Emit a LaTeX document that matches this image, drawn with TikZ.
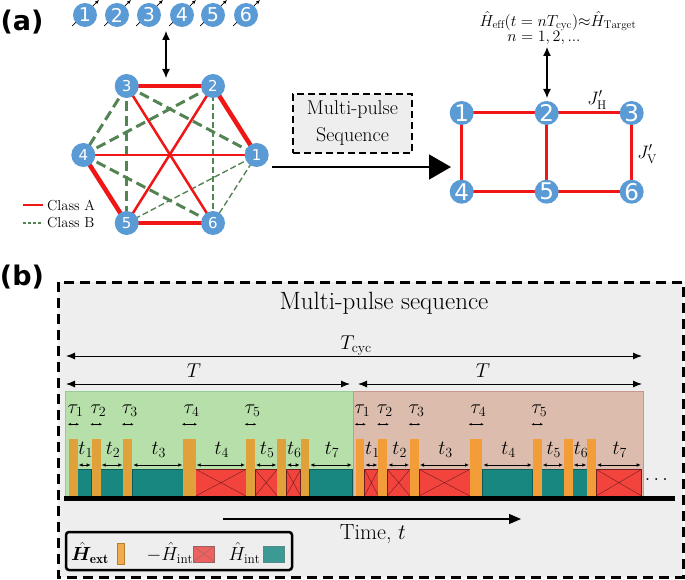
\RequirePackage{fix-cm}
\documentclass[tikz,border=0pt]{standalone}
\usepackage{amsmath}
\usepackage{bm}
\usepackage{fontspec}
\newfontfamily\dvs{DejaVu Sans}
\usetikzlibrary{arrows.meta}
\definecolor{nodeblue}{RGB}{91,155,213}
\definecolor{hexred}{RGB}{240,22,22}
\definecolor{hexgreen}{RGB}{84,132,84}
\definecolor{panelgray}{RGB}{238,238,238}
\definecolor{pergreen}{RGB}{182,223,170}
\definecolor{pergreenb}{RGB}{150,205,150}
\definecolor{perpink}{RGB}{220,189,173}
\definecolor{perpinkb}{RGB}{200,150,140}
\definecolor{tealb}{RGB}{23,135,127}
\definecolor{tealbd}{RGB}{15,90,85}
\definecolor{redb}{RGB}{242,67,61}
\definecolor{redbd}{RGB}{110,30,30}
\definecolor{orangeA}{RGB}{224,160,58}
\definecolor{orangeB}{RGB}{243,157,56}
\definecolor{legorange}{RGB}{240,170,80}
\definecolor{legred}{RGB}{238,97,97}
\definecolor{legteal}{RGB}{61,153,147}
\newcommand{\myfs}[1]{\fontsize{#1}{#1}\selectfont}
\pgfdeclarelayer{bg}
\pgfsetlayers{bg,main}
\begin{document}
\begin{tikzpicture}[x=1pt,y=-1pt,
  basen/.style={circle,fill=nodeblue,inner sep=0pt,minimum size=24pt,text=white},
  hexn/.style={basen,font=\dvs\myfs{15}},
  spinn/.style={basen,font=\dvs\myfs{19}},
  rectn/.style={basen,font=\dvs\myfs{23}},
  thickred/.style={hexred,line width=4.5pt},
  medred/.style={hexred,line width=2.5pt},
  gthick/.style={hexgreen,line width=3pt,dash pattern=on 10pt off 5pt},
  gthin/.style={hexgreen,line width=1.4pt,dash pattern=on 6pt off 3pt},
  rectedge/.style={hexred,line width=3pt},
  dblarr/.style={line width=1.2pt,{Latex[length=9pt,width=8pt]}-{Latex[length=9pt,width=8pt]}},
  lbl/.style={inner sep=0pt,font=\dvs\bfseries\myfs{27}},
  mlab/.style={inner sep=0pt,font=\myfs{20}},
  longarr/.style={line width=1pt,{Latex[length=9pt,width=7pt]}-{Latex[length=9pt,width=7pt]}},
  tarr/.style={line width=0.7pt,{Latex[length=4pt,width=3.5pt]}-{Latex[length=4pt,width=3.5pt]}},
  tauarr/.style={line width=0.6pt,{Latex[length=3pt,width=2.5pt]}-{Latex[length=3pt,width=2.5pt]}},
  tealblk/.style={fill=tealb,draw=tealbd,line width=0.5pt},
  redblk/.style={fill=redb,draw=redbd,line width=0.5pt},
  crossl/.style={redbd,line width=0.4pt}
]
\useasboundingbox (0,0) rectangle (685,580);

% ---------------- panel (a) ----------------
\node[lbl] (la) at (22,22) {(a)};

% spin row
\foreach \i/\x in {1/85,2/117,3/149,4/182,5/213,6/246}
  \node[spinn] (s\i) at (\x,15) {\i};
\begin{pgfonlayer}{bg}
\foreach \i in {1,...,6}
  \draw[line width=0.7pt,-{Latex[length=4pt,width=3.5pt]}] ([shift={(-13,11)}]s\i.center) -- ([shift={(14,-15)}]s\i.center);
\end{pgfonlayer}
\coordinate (sa) at (166,31);
\coordinate (sb) at (166,78);
\draw[dblarr] (sa) -- (sb);

% hexagon
\node[hexn] (h1) at (256.7,155) {1};
\node[hexn] (h2) at (213,86) {2};
\node[hexn] (h3) at (126.7,86) {3};
\node[hexn] (h4) at (83.3,155) {4};
\node[hexn] (h5) at (126.7,223) {5};
\node[hexn] (h6) at (213,223) {6};
\begin{pgfonlayer}{bg}
\draw[gthin] (h2.center) -- (h6.center);
\draw[gthin] (h5.center) -- (h1.center);
\draw[gthin] (h1.center) -- (h6.center);
\draw[gthick] (h3.center) -- (h4.center);
\draw[gthick] (h4.center) -- (h2.center);
\draw[gthick] (h3.center) -- (h1.center);
\draw[gthick] (h3.center) -- (h5.center);
\draw[gthick] (h4.center) -- (h6.center);
\draw[medred] (h3.center) -- (h6.center);
\draw[medred] (h2.center) -- (h5.center);
\draw[medred] (h4.center) -- (h1.center);
\draw[thickred] (h3.center) -- (h2.center);
\draw[thickred] (h2.center) -- (h1.center);
\draw[thickred] (h4.center) -- (h5.center);
\draw[thickred] (h5.center) -- (h6.center);
\end{pgfonlayer}

% class legend
\coordinate (ca1) at (23,205); \coordinate (ca2) at (43,205);
\coordinate (cb1) at (23,223); \coordinate (cb2) at (43,223);
\draw[hexred,line width=1.6pt] (ca1) -- (ca2);
\draw[hexgreen,line width=1.2pt,dash pattern=on 3pt off 2pt] (cb1) -- (cb2);
\node[anchor=west,inner sep=0pt,font=\myfs{14.5}] (cla) at (47,205) {Class A};
\node[anchor=west,inner sep=0pt,font=\myfs{14.5}] (clb) at (47,223) {Class B};

% multi-pulse box and big arrow
\node[draw,fill=panelgray,line width=2pt,dash pattern=on 7pt off 4pt,
      minimum width=119pt,minimum height=59pt,align=center,inner sep=2pt,
      font=\fontsize{20}{27}\selectfont] (mps) at (352.5,123.5) {Multi-pulse\\Sequence};
\coordinate (a1) at (272,167);
\coordinate (a2) at (451,167);
\draw[line width=1.5pt,-{Triangle[length=22pt,width=25pt]}] (a1) -- (a2);

% target lattice
\node[rectn] (r1) at (461.7,113) {1};
\node[rectn] (r2) at (546.7,113) {2};
\node[rectn] (r3) at (631.7,113) {3};
\node[rectn] (r4) at (461.7,191.7) {4};
\node[rectn] (r5) at (546.7,191.7) {5};
\node[rectn] (r6) at (631.7,191.7) {6};
\begin{pgfonlayer}{bg}
\draw[rectedge] (r1.center) -- (r2.center) -- (r3.center) -- (r6.center) -- (r5.center) -- (r4.center) -- cycle;
\draw[rectedge] (r2.center) -- (r5.center);
\end{pgfonlayer}
\node[inner sep=0pt,font=\myfs{18}] (jh) at (597,100) {$J'_{\mathrm{H}}$};
\node[inner sep=0pt,font=\myfs{18}] (jv) at (647,154) {$J'_{\mathrm{V}}$};
\node[inner sep=0pt,font=\myfs{16}] (feff) at (558,21) {$\hat{H}_{\mathrm{eff}}(t=nT_{\mathrm{cyc}}){\approx}\hat{H}_{\mathrm{Target}}$};
\node[inner sep=0pt,font=\myfs{16}] (nn) at (544,38) {$n=1,2,...$};
\coordinate (ra) at (547,47);
\coordinate (rb) at (547,98);
\draw[dblarr] (ra) -- (rb);

% ---------------- panel (b) ----------------
\node[lbl] (lb) at (22,277) {(b)};
\draw[fill=panelgray,line width=3pt,dash pattern=on 10pt off 6pt] (58,282) rectangle (683,577);
\node[inner sep=0pt,font=\myfs{25}] (title) at (384,303) {Multi-pulse sequence};

\coordinate (c1) at (66,356); \coordinate (c2) at (642,356);
\draw[longarr] (c1) -- (c2);
\node[mlab] (tcyc) at (356,346) {$T_{\mathrm{cyc}}$};
\coordinate (p1) at (66,384); \coordinate (p2) at (350,384);
\coordinate (p3) at (358,384); \coordinate (p4) at (642,384);
\draw[longarr] (p1) -- (p2);
\draw[longarr] (p3) -- (p4);
\node[mlab] (T1) at (194,371) {$T$};
\node[mlab] (T2) at (483,371) {$T$};

% period rectangles
\draw[fill=pergreen,draw=pergreenb,line width=1pt] (65,391) rectangle (353,496);
\draw[fill=perpink,draw=perpinkb,line width=1pt] (353,391) rectangle (643,496);

% first period
\foreach \a/\b in {77.7/91.7,100.7/123.3,132.3/183.3,309.3/352.7}
  \draw[tealblk] (\a,469.3) rectangle (\b,496);
\foreach \a/\b in {195.7/246,255/277.3,286/300.7}
  {\draw[redblk] (\a,469.3) rectangle (\b,496);
   \draw[crossl] (\a,469.3) -- (\b,496) (\a,496) -- (\b,469.3);}
\foreach \a/\b in {69.3/77.7,91.7/100.7,123.3/132.3,183.3/195.7,246/255,277.3/286,300.7/309.3}
  \fill[orangeA] (\a,439.3) rectangle (\b,496);
\foreach \a/\b/\k in {77.7/91.7/1,100.7/123.3/2,132.3/183.3/3,195.7/246/4,255/277.3/5,286/300.7/6,309.3/352.7/7}
  {\node[mlab] (ta\k) at ({(\a+\b)/2+1},450) {$t_{\k}$};
   \draw[tarr] ({\a+1},465) -- ({\b-1},465);}
\foreach \a/\b/\k in {69.3/77.7/1,91.7/100.7/2,123.3/132.3/3,183.3/195.7/4,246/255/5}
  {\node[mlab] (tua\k) at ({(\a+\b)/2+2},411) {$\tau_{\k}$};
   \draw[tauarr] ({\a-1.5},424.3) -- ({\b+1.5},424.3);}

% second period
\begin{scope}[xshift=286.7]
\foreach \a/\b in {195.7/246,255/277.3,286/300.7}
  \draw[tealblk] (\a,469.3) rectangle (\b,496);
\foreach \a/\b in {77.7/91.7,100.7/123.3,132.3/183.3,309.3/355}
  {\draw[redblk] (\a,469.3) rectangle (\b,496);
   \draw[crossl] (\a,469.3) -- (\b,496) (\a,496) -- (\b,469.3);}
\foreach \a/\b in {69.3/77.7,91.7/100.7,123.3/132.3,183.3/195.7,246/255,277.3/286,300.7/309.3}
  \fill[orangeB] (\a,439.3) rectangle (\b,496);
\foreach \a/\b/\k in {77.7/91.7/1,100.7/123.3/2,132.3/183.3/3,195.7/246/4,255/277.3/5,286/300.7/6,309.3/355/7}
  {\node[mlab] (tb\k) at ({(\a+\b)/2+1},450) {$t_{\k}$};
   \draw[tarr] ({\a+1},465) -- ({\b-1},465);}
\foreach \a/\b/\k in {69.3/77.7/1,91.7/100.7/2,123.3/132.3/3,183.3/195.7/4,246/255/5}
  {\node[mlab] (tub\k) at ({(\a+\b)/2+2},411) {$\tau_{\k}$};
   \draw[tauarr] ({\a-1.5},424.3) -- ({\b+1.5},424.3);}
\end{scope}

% ground bar
\fill[black] (64,495.5) rectangle (675,501);
\node[mlab] (dots) at (658,480) {$\dots$};

% time arrow
\coordinate (ta) at (223,519);
\coordinate (tbx) at (521,519);
\draw[line width=1.2pt,-{Triangle[length=12pt,width=10pt]}] (ta) -- (tbx);
\node[inner sep=0pt,font=\myfs{22}] (time) at (373,534) {Time, $t$};

% legend
\draw[line width=2.5pt,rounded corners=3pt] (66,532) rectangle (292,570);
\node[inner sep=0pt,font=\myfs{19}] (lext) at (90,553) {$\bm{\hat{H}}_{\mathbf{ext}}$};
\draw[fill=legorange,draw=orangeA!80!black,line width=0.4pt] (116.7,542.7) rectangle (124.3,564);
\node[inner sep=0pt,font=\myfs{19}] (lnint) at (170,553) {$-\hat{H}_{\mathrm{int}}$};
\draw[fill=legred,draw=redbd!70,line width=0.4pt] (193.3,546) rectangle (214.3,561.7);
\draw[redbd!70,line width=0.4pt] (193.3,546) -- (214.3,561.7) (193.3,561.7) -- (214.3,546);
\node[inner sep=0pt,font=\myfs{19}] (lint) at (244.5,553) {$\hat{H}_{\mathrm{int}}$};
\draw[fill=legteal,draw=tealbd!70,line width=0.4pt] (263.3,546) rectangle (284.3,561.7);
\end{tikzpicture}
\end{document}
